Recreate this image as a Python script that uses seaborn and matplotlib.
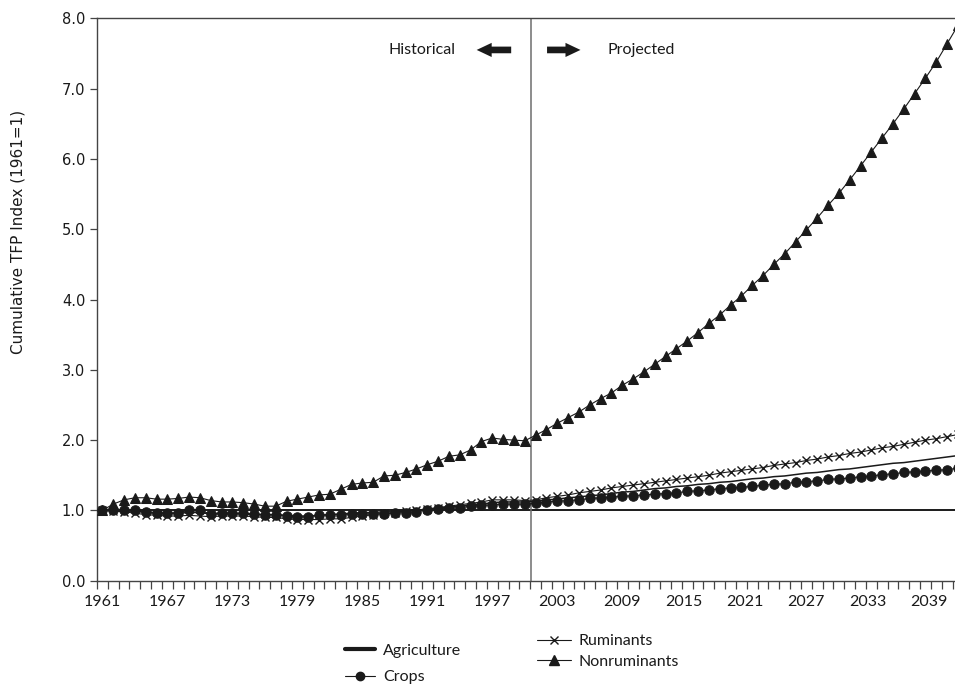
import matplotlib
matplotlib.use("Agg")
import matplotlib.pyplot as plt
import matplotlib.transforms as mtransforms
from matplotlib.lines import Line2D
from matplotlib.ticker import FixedLocator, FormatStrFormatter
import numpy as np
import pandas as pd
import seaborn as sns

# ── Data ─────────────────────────────────────────────────────
years = list(range(1961, 2041))

agri_hist = [1.00, 1.00, 0.99, 0.99, 0.97, 0.96, 0.95, 0.96, 0.97, 0.97,
             0.95, 0.95, 0.95, 0.95, 0.94, 0.94, 0.94, 0.93, 0.92, 0.92,
             0.93, 0.94, 0.95, 0.96, 0.97, 0.97, 0.98, 0.98, 0.99, 1.00,
             1.02, 1.03, 1.05, 1.06, 1.08, 1.09, 1.11, 1.12, 1.12, 1.12]
agri_proj = [1.13, 1.15, 1.16, 1.18, 1.19, 1.21, 1.22, 1.24, 1.26, 1.27,
             1.29, 1.31, 1.32, 1.34, 1.35, 1.37, 1.38, 1.40, 1.41, 1.43,
             1.45, 1.46, 1.48, 1.49, 1.51, 1.53, 1.54, 1.56, 1.58, 1.59,
             1.61, 1.63, 1.65, 1.67, 1.68, 1.70, 1.72, 1.74, 1.76, 1.78]

crops_hist = [1.00, 1.00, 1.00, 1.00, 0.98, 0.97, 0.96, 0.97, 1.00, 1.00,
              0.95, 0.97, 0.96, 0.96, 0.95, 0.94, 0.94, 0.92, 0.90, 0.91,
              0.93, 0.94, 0.94, 0.95, 0.95, 0.95, 0.95, 0.96, 0.97, 0.98,
              1.01, 1.02, 1.03, 1.04, 1.06, 1.07, 1.08, 1.09, 1.09, 1.09]
crops_proj = [1.10, 1.12, 1.13, 1.14, 1.15, 1.17, 1.18, 1.19, 1.20, 1.21,
              1.22, 1.23, 1.24, 1.25, 1.27, 1.28, 1.29, 1.31, 1.32, 1.33,
              1.34, 1.36, 1.37, 1.38, 1.40, 1.41, 1.42, 1.44, 1.45, 1.46,
              1.48, 1.49, 1.51, 1.52, 1.54, 1.55, 1.56, 1.57, 1.58, 1.60]

rumi_hist = [1.00, 0.99, 0.98, 0.96, 0.94, 0.93, 0.92, 0.92, 0.93, 0.92,
             0.91, 0.92, 0.92, 0.92, 0.91, 0.90, 0.90, 0.88, 0.87, 0.87,
             0.87, 0.88, 0.88, 0.90, 0.92, 0.94, 0.96, 0.97, 0.99, 1.00,
             1.02, 1.04, 1.06, 1.08, 1.10, 1.12, 1.15, 1.15, 1.15, 1.14]
rumi_proj = [1.15, 1.18, 1.20, 1.22, 1.25, 1.27, 1.29, 1.32, 1.34, 1.36,
             1.38, 1.40, 1.42, 1.44, 1.46, 1.48, 1.50, 1.53, 1.55, 1.57,
             1.59, 1.61, 1.64, 1.66, 1.68, 1.71, 1.73, 1.76, 1.78, 1.81,
             1.83, 1.86, 1.89, 1.91, 1.94, 1.97, 2.00, 2.02, 2.05, 2.08]

nonrumi_hist = [1.00, 1.09, 1.15, 1.18, 1.18, 1.16, 1.16, 1.17, 1.19, 1.18,
                1.14, 1.12, 1.12, 1.11, 1.09, 1.06, 1.06, 1.13, 1.16, 1.19,
                1.22, 1.23, 1.30, 1.37, 1.39, 1.40, 1.49, 1.50, 1.54, 1.59,
                1.65, 1.70, 1.77, 1.79, 1.86, 1.98, 2.03, 2.01, 2.00, 1.99]
nonrumi_proj = [2.07, 2.15, 2.24, 2.32, 2.40, 2.50, 2.59, 2.67, 2.78, 2.87,
                2.97, 3.08, 3.19, 3.30, 3.41, 3.53, 3.66, 3.78, 3.92, 4.05,
                4.20, 4.34, 4.50, 4.65, 4.82, 4.99, 5.16, 5.34, 5.51, 5.70,
                5.90, 6.10, 6.30, 6.50, 6.71, 6.93, 7.15, 7.38, 7.64, 7.90]

tick_years = list(range(1961, 2041, 6))
split_year = 2000.55

df = pd.DataFrame({
    "year": years,
    "Agriculture": agri_hist + agri_proj,
    "Crops": crops_hist + crops_proj,
    "Ruminants": rumi_hist + rumi_proj,
    "Nonruminants": nonrumi_hist + nonrumi_proj,
})

# ── Style ────────────────────────────────────────────────────
sns.set_theme(style="white")
plt.rcParams["font.family"] = ["Lato", "DejaVu Sans"]
INK = "#1a1a1a"
FS = 11.5

fig = plt.figure(figsize=(9.55, 6.85), dpi=100)
ax = fig.add_axes([97 / 955, 1 - 580.7 / 685, (963.4 - 97) / 955, (580.7 - 18.3) / 685])

# reference line at 1.0 and the historical / projected split
ax.axhline(1.0, color=INK, lw=1.4, zorder=1)
ax.axvline(split_year, color="#6e6e6e", lw=1.1, zorder=1)

sns.lineplot(data=df, x="year", y="Agriculture", ax=ax, color=INK, lw=1.1, zorder=3)
sns.lineplot(data=df, x="year", y="Crops", ax=ax, color=INK, lw=0.8,
             marker="o", markersize=6.8, markeredgecolor=INK, zorder=4)
sns.lineplot(data=df, x="year", y="Ruminants", ax=ax, color=INK, lw=0.8,
             marker="x", markersize=6, markeredgewidth=1.0, markeredgecolor=INK, zorder=4)
sns.lineplot(data=df, x="year", y="Nonruminants", ax=ax, color=INK, lw=0.8,
             marker="^", markersize=7.6, markeredgecolor=INK, zorder=4)

# ── Axes ─────────────────────────────────────────────────────
ax.set_xlim(1960.5, 2040.5)
ax.set_ylim(0, 8)
ax.set_xlabel("")
ax.set_ylabel("Cumulative TFP Index (1961=1)", fontsize=11, color=INK,
              family=["DejaVu Sans"])
ax.yaxis.set_label_coords(-0.082, 0.62)

ax.xaxis.set_major_locator(FixedLocator(tick_years))
ax.xaxis.set_minor_locator(FixedLocator(np.arange(1960.5, 2041, 1.0)))
ax.tick_params(axis="x", which="major", length=0, pad=10, labelsize=FS, colors=INK)
ax.tick_params(axis="x", which="minor", length=6, width=0.9, direction="out",
               color="#444444", bottom=True)
ax.set_yticks(range(0, 9))
ax.yaxis.set_major_formatter(FormatStrFormatter("%.1f"))
ax.tick_params(axis="y", length=5, width=0.9, direction="out", color="#444444",
               left=True, labelsize=10.5, labelcolor=INK)
for lab in ax.get_yticklabels():
    lab.set_family("DejaVu Sans")

# the right-hand year labels sit a little left of their categories
xlabels = ax.get_xticklabels()
for i, lab in enumerate(xlabels):
    shift = -max(0, i - 8) * 2.6 / 72
    lab.set_transform(lab.get_transform() +
                      mtransforms.ScaledTranslation(shift, 0, fig.dpi_scale_trans))

for side in ["left", "bottom", "top"]:
    ax.spines[side].set_color("#444444")
    ax.spines[side].set_linewidth(1.0)
ax.spines["right"].set_visible(False)

# ── Historical / Projected annotation ────────────────────────
ax.text(1993.6, 7.55, "Historical", ha="right", va="center", fontsize=FS, color=INK)
ax.text(2007.6, 7.55, "Projected", ha="left", va="center", fontsize=FS, color=INK)
arrow = dict(arrowstyle="simple,head_length=0.9,head_width=0.85,tail_width=0.4",
             color=INK, lw=0)
ax.annotate("", xy=(1995.3, 7.55), xytext=(1999.0, 7.55), arrowprops=arrow)
ax.annotate("", xy=(2005.4, 7.55), xytext=(2001.8, 7.55), arrowprops=arrow)

# ── Legend (two staggered columns below the plot) ────────────
h_agri = Line2D([], [], color=INK, lw=3)
h_crop = Line2D([], [], color=INK, lw=0.8, marker="o", markersize=6)
h_rumi = Line2D([], [], color=INK, lw=0.8, marker="x", markersize=5.5, markeredgewidth=1)
h_nonr = Line2D([], [], color=INK, lw=0.8, marker="^", markersize=6.5)

leg1 = fig.legend([h_agri, h_crop], ["Agriculture", "Crops"], loc="center left",
                  bbox_to_anchor=(345 / 955, 1 - 664 / 685), frameon=False,
                  fontsize=FS, handlelength=1.9, handletextpad=0.5,
                  labelspacing=0.75, borderpad=0, borderaxespad=0)
leg2 = fig.legend([h_rumi, h_nonr], ["Ruminants", "Nonruminants"], loc="center left",
                  bbox_to_anchor=(537 / 955, 1 - 651.5 / 685), frameon=False,
                  fontsize=FS, handlelength=2.1, handletextpad=0.5,
                  labelspacing=0.4, borderpad=0, borderaxespad=0)
for leg in (leg1, leg2):
    for t in leg.get_texts():
        t.set_color(INK)

fig.savefig("out.png", dpi=100)
plt.close(fig)
